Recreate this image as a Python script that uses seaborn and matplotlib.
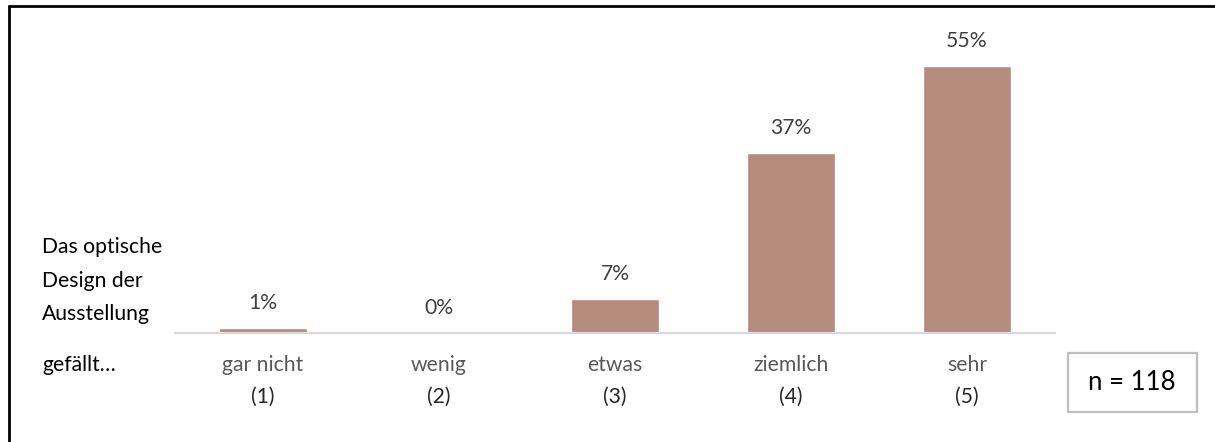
import matplotlib
matplotlib.use("Agg")
import matplotlib.pyplot as plt
from matplotlib.lines import Line2D
from matplotlib.patches import Rectangle
import seaborn as sns
import pandas as pd

# Survey answers: "Das optische Design der Ausstellung gefällt..."
categories = ["gar nicht", "wenig", "etwas", "ziemlich", "sehr"]
scale_codes = ["(1)", "(2)", "(3)", "(4)", "(5)"]
shares = [1, 0, 7, 37, 55]
share_labels = ["1%", "0%", "7%", "37%", "55%"]
question_lines = ["Das optische", "Design der", "Ausstellung"]
question_tail = "gefällt…"
sample_note = "n = 118"

sns.set_theme(style="white")
plt.rcParams["font.family"] = ["Lato", "DejaVu Sans"]

W, H = 1215, 442
fig = plt.figure(figsize=(W / 100, H / 100), dpi=100)
FS = 15.2

def fx(px):
    return px / W

def fy(py):
    return 1 - py / H

# plot area: category band -0.5..4.5 spans 175..1055 px, baseline at y=333 px
px_per_pct = 267 / 55
ymax = 60
ax = fig.add_axes([fx(175), fy(333), fx(1055) - fx(175), ymax * px_per_pct / H])

df = pd.DataFrame({"Antwort": categories, "Anteil": shares})
sns.barplot(data=df, x="Antwort", y="Anteil", color="#b58b7e", saturation=1,
            width=0.5, ax=ax)
ax.set_xlim(-0.5, 4.5)
ax.set_ylim(0, ymax)
ax.set_xlabel("")
ax.set_ylabel("")
ax.set_xticks([])
ax.set_yticks([])
for side in ["top", "left", "right"]:
    ax.spines[side].set_visible(False)
ax.spines["bottom"].set_color("#d9d9d9")
ax.spines["bottom"].set_linewidth(1.6)

for i, (v, lab) in enumerate(zip(shares, share_labels)):
    ax.annotate(lab, (i, v), xytext=(0, 18), textcoords="offset points",
                ha="center", va="center", fontsize=FS, color="#404040")

# category names and scale codes beneath the axis
trans = ax.get_xaxis_transform()
for i, (c, code) in enumerate(zip(categories, scale_codes)):
    ax.text(i, -(365 - 333) / (ymax * px_per_pct), c, transform=trans,
            ha="center", va="center", fontsize=FS, color="#595959")
    ax.text(i, -(397 - 333) / (ymax * px_per_pct), code, transform=trans,
            ha="center", va="center", fontsize=FS, color="#262626")

# question text on the left
for line, py in zip(question_lines, [247, 281, 314]):
    fig.text(fx(42), fy(py), line, ha="left", va="center", fontsize=FS,
             color="#000000")
fig.text(fx(42), fy(365), question_tail, ha="left", va="center",
         fontsize=FS, color="#000000")

# sample size box
fig.patches.append(Rectangle((fx(1068), fy(412)), fx(1197) - fx(1068),
                             fy(353) - fy(412), transform=fig.transFigure,
                             facecolor="white", edgecolor="#bfbfbf",
                             linewidth=1.6))
fig.text(fx(1132), fy(383), sample_note, ha="center", va="center",
         fontsize=18.5, color="#000000")

# outer frame
fig.lines.append(Line2D([fx(9), 1], [fy(5.5), fy(5.5)],
                        transform=fig.transFigure, color="black", linewidth=2))
fig.lines.append(Line2D([fx(9), fx(9)], [fy(5.5), 0],
                        transform=fig.transFigure, color="black", linewidth=2))

fig.savefig("out.png", dpi=100, facecolor="white")
